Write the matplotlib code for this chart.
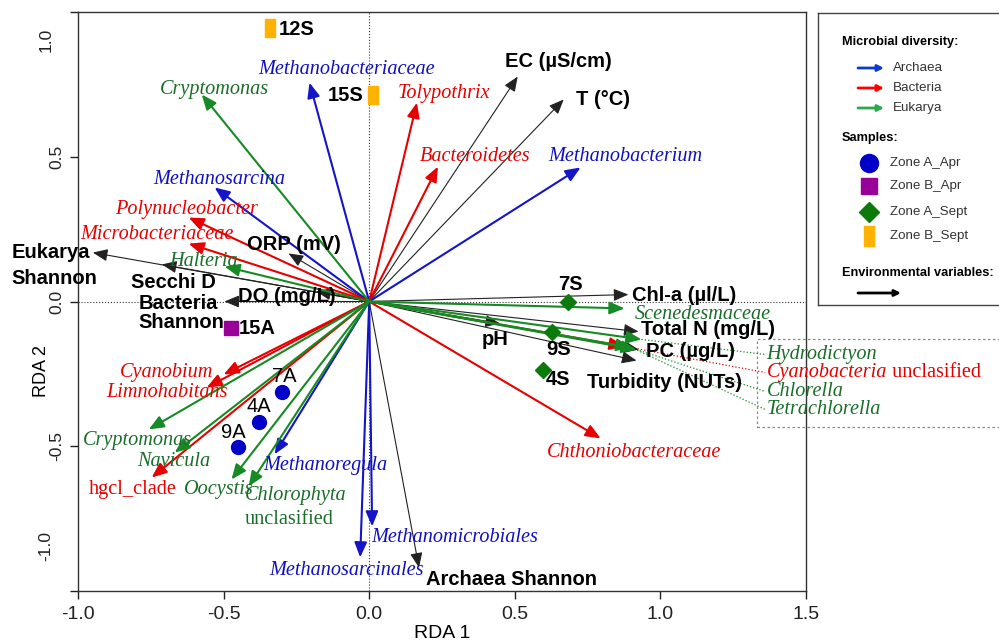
import matplotlib.pyplot as plt
from matplotlib.patches import Rectangle

plt.rcParams['font.family'] = ['Liberation Sans', 'DejaVu Sans']
plt.rcParams['axes.unicode_minus'] = False

# Environmental variables (RDA 1, RDA 2)
env_names = ['EC (µS/cm)', 'T (°C)', 'ORP (mV)', 'Eukarya\nShannon', 'Secchi D',
             'DO (mg/L)', 'Bacteria\nShannon', 'Chl-a (µl/L)', 'Total N (mg/L)',
             'PC (µg/L)', 'Turbidity (NUTs)', 'pH', 'Archaea Shannon']
env_x = [0.510, 0.668, -0.277, -0.949, -0.712, -0.182, -0.497, 0.890, 0.925, 0.925, 0.918, 0.449, 0.171]
env_y = [0.777, 0.698, 0.166, 0.169, 0.128, 0.035, 0.000, 0.024, -0.104, -0.166, -0.204, -0.076, -0.919]

# Archaea taxa
arch_names = ['Methanobacteriaceae', 'Methanosarcina', 'Methanobacterium',
              'Methanoregula', 'Methanomicrobiales', 'Methanosarcinales']
arch_x = [-0.205, -0.531, 0.726, -0.325, 0.010, -0.031]
arch_y = [0.756, 0.394, 0.463, -0.528, -0.777, -0.884]

# Bacteria taxa
bact_names = ['Tolypothrix', 'Bacteroidetes', 'Polynucleobacter', 'Microbacteriaceae',
              'Cyanobium', 'Limnohabitans', 'hgcl_clade', 'Chthoniobacteraceae',
              'Cyanobacteria unclasified']
bact_x = [0.164, 0.236, -0.620, -0.620, -0.500, -0.558, -0.747, 0.795, 0.877]
bact_y = [0.687, 0.466, 0.290, 0.200, -0.252, -0.297, -0.608, -0.473, -0.155]

# Eukarya taxa
euk_names = ['Cryptomonas', 'Halteria', 'Cryptomonas', 'Navicula', 'Oocystis',
             'Chlorophyta unclasified', 'Scenedesmaceae', 'Hydrodictyon',
             'Chlorella', 'Tetrachlorella']
euk_x = [-0.575, -0.497, -0.757, -0.668, -0.473, -0.414, 0.877, 0.935, 0.918, 0.900]
euk_y = [0.715, 0.121, -0.442, -0.522, -0.615, -0.639, -0.024, -0.131, -0.166, -0.159]

# Samples
sample_names = ['12S', '15S', '15A', '7A', '4A', '9A', '7S', '9S', '4S']
sample_group = ['Zone B_Sept', 'Zone B_Sept', 'Zone B_Apr', 'Zone A_Apr', 'Zone A_Apr',
                'Zone A_Apr', 'Zone A_Sept', 'Zone A_Sept', 'Zone A_Sept']
sample_x = [-0.339, 0.014, -0.473, -0.298, -0.377, -0.449, 0.682, 0.627, 0.596]
sample_y = [0.946, 0.712, -0.090, -0.311, -0.415, -0.504, 0.000, -0.104, -0.235]

# ---- label layout (x, y, ha) ----
env_lab = [(0.466, 0.829, 'left'), (0.709, 0.698, 'left'), (-0.421, 0.197, 'left'),
           (-1.229, 0.124, 'left'), (-0.818, 0.066, 'left'), (-0.449, 0.017, 'left'),
           (-0.791, -0.038, 'left'), (0.901, 0.021, 'left'), (0.935, -0.097, 'left'),
           (0.949, -0.173, 'left'), (0.747, -0.280, 'left'), (0.432, -0.131, 'center'),
           (0.195, -0.960, 'left')]
arch_lab = [(-0.380, 0.801), (-0.740, 0.421), (0.616, 0.501), (-0.363, -0.566),
            (0.007, -0.815), (-0.342, -0.929)]
bact_lab = [(0.099, 0.718), (0.175, 0.501), (-0.873, 0.318), (-0.993, 0.231),
            (-0.856, -0.245), (-0.904, -0.314), (-0.962, -0.649), (0.610, -0.522),
            None]
euk_lab = [(-0.719, 0.732), (-0.688, 0.138), (-0.983, -0.480), (-0.798, -0.553),
           (-0.637, -0.649), None, (0.911, -0.045), None, None, None]
sample_lab = [(-0.312, 0.940, 'left'), (-0.021, 0.712, 'right'), (-0.449, -0.093, 'left'),
              (-0.291, -0.259, 'center'), (-0.380, -0.363, 'center'), (-0.466, -0.452, 'center'),
              (0.692, 0.059, 'center'), (0.651, -0.166, 'center'), (0.606, -0.269, 'left')]
box_x = 1.36
box_lab_y = {'Hydrodictyon': -0.183, 'Cyanobacteria unclasified': -0.245,
             'Chlorella': -0.311, 'Tetrachlorella': -0.373}

BLUE, RED, GREEN = '#1414c8', '#e60000', '#168a24'
BLUE_T, RED_T, GREEN_T = '#1010c0', '#e60000', '#1a6e2a'
SERIF = 'Liberation Serif'
FS_TAXA = 14.6
FS_ENV = 14.5
rect = [(-0.28, -0.5), (0.28, -0.5), (0.28, 0.5), (-0.28, 0.5), (-0.28, -0.5)]
markers = {
    'Zone A_Apr': dict(marker='o', color='#0000c8', ms=10),
    'Zone B_Apr': dict(marker='s', color='#990099', ms=10),
    'Zone A_Sept': dict(marker='D', color='#0b7a0b', ms=8),
    'Zone B_Sept': dict(marker=rect, color='#ffb300', ms=13),
}

fig = plt.figure(figsize=(9.99, 6.44), dpi=100)
ax = fig.add_axes([78 / 999, 1 - 591 / 644, 728 / 999, 579 / 644])
ax.set_xlim(-1.0, 1.5)
ax.set_ylim(-1.0, 1.0)
ax.axhline(0, color='#333333', lw=0.8, ls=':', zorder=1)
ax.axvline(0, color='#333333', lw=0.8, ls=':', zorder=1)


def arrow(x, y, color, lw):
    ax.annotate('', xy=(x, y), xytext=(0, 0),
                arrowprops=dict(arrowstyle='-|>,head_length=0.6,head_width=0.25',
                                color=color, lw=lw, shrinkA=0, shrinkB=0,
                                mutation_scale=15), zorder=3)


for x, y in zip(env_x, env_y):
    arrow(x, y, '#222222', 0.8)
for x, y in zip(arch_x, arch_y):
    arrow(x, y, BLUE, 1.5)
for x, y in zip(bact_x, bact_y):
    arrow(x, y, RED, 1.5)
for x, y in zip(euk_x, euk_y):
    arrow(x, y, GREEN, 1.5)

# labels
for name, (lx, ly, ha) in zip(env_names, env_lab):
    ax.text(lx, ly, name, ha=ha, va='center', fontsize=FS_ENV, fontweight='bold',
            linespacing=1.45 if 'Eukarya' in name else 1.0, zorder=5)

for names, labs, col in [(arch_names, arch_lab, BLUE_T), (bact_names, bact_lab, RED_T),
                         (euk_names, euk_lab, GREEN_T)]:
    for name, lab in zip(names, labs):
        if lab is None:
            continue
        style = 'normal' if name == 'hgcl_clade' else 'italic'
        ax.text(lab[0], lab[1], name, ha='left', va='center', fontsize=FS_TAXA,
                family=SERIF, style=style, color=col, zorder=5)

ax.text(-0.428, -0.670, 'Chlorophyta', ha='left', va='center', fontsize=FS_TAXA,
        family=SERIF, style='italic', color=GREEN_T, zorder=5)
ax.text(-0.428, -0.753, 'unclasified', ha='left', va='center', fontsize=FS_TAXA,
        family=SERIF, color=GREEN_T, zorder=5)

# boxed labels on the right with dotted connectors
ax.add_patch(Rectangle((1.332, -0.432), 1.0, 0.301, fill=False, ec='#888888',
                       lw=0.9, ls=(0, (2, 2)), clip_on=False, zorder=2))
for name, x, y in zip(euk_names, euk_x, euk_y):
    if name in box_lab_y:
        ly = box_lab_y[name]
        ax.plot([x, box_x], [y, ly], ls=':', lw=0.9, color=GREEN, clip_on=False, zorder=2)
        ax.text(box_x + 0.005, ly, name, ha='left', va='center', fontsize=FS_TAXA,
                family=SERIF, style='italic', color=GREEN_T)
for name, x, y in zip(bact_names, bact_x, bact_y):
    if name in box_lab_y:
        ly = box_lab_y[name]
        ax.plot([x, box_x], [y, ly], ls=':', lw=0.9, color=RED, clip_on=False, zorder=2)
        t1 = ax.text(box_x + 0.005, ly, 'Cyanobacteria', ha='left', va='center', fontsize=FS_TAXA,
                     family=SERIF, style='italic', color=RED_T)
        ax.annotate(' unclasified', xy=(1, 0.5), xycoords=t1, ha='left', va='center',
                    fontsize=FS_TAXA, family=SERIF, color=RED_T)

# samples
for name, g, x, y, (lx, ly, ha) in zip(sample_names, sample_group, sample_x, sample_y, sample_lab):
    m = markers[g]
    ax.plot(x, y, ls='none', marker=m['marker'], color=m['color'], ms=m['ms'],
            mec=m['color'], zorder=6)
    ax.text(lx, ly, name, ha=ha, va='center', fontsize=14.5, zorder=6,
            fontweight='normal' if g == 'Zone A_Apr' else 'bold')

# axes styling
ax.set_xticks([-1.0, -0.5, 0.0, 0.5, 1.0, 1.5])
ax.set_yticks([-1.0, -0.5, 0.0, 0.5, 1.0])
ax.set_yticklabels(['', '-0.5', '0.0', '0.5', ''])
ax.tick_params(direction='out', length=6, width=1, colors='#222222')
ax.tick_params(axis='x', labelsize=14, pad=5)
ax.tick_params(axis='y', labelsize=12.5, labelrotation=90, pad=4)
for t in ax.get_yticklabels():
    t.set_va('center')
# end labels of the y axis sit a little inside the frame
ax.text(-0.034, 0.952, '1.0', transform=ax.transAxes, rotation=90, ha='right', va='center',
        fontsize=12.5, color='#222222')
ax.text(-0.034, 0.078, '-1.0', transform=ax.transAxes, rotation=90, ha='right', va='center',
        fontsize=12.5, color='#222222')
ax.set_xlabel('RDA 1', fontsize=14)
ax.set_ylabel('RDA 2', fontsize=13)
ax.xaxis.set_label_coords(0.5, -0.058)
ax.yaxis.set_label_coords(-0.038, 0.38)
for s in ax.spines.values():
    s.set_color('#333333')
    s.set_linewidth(1)

# legend panel
lax = fig.add_axes([818 / 999, 1 - 305 / 644, 200 / 999, 292 / 644])
lax.set_xlim(818, 1018)
lax.set_ylim(305, 13)
lax.set_xticks([])
lax.set_yticks([])
for s in lax.spines.values():
    s.set_color('#444444')
    s.set_linewidth(1)

lax.text(842, 42, 'Microbial diversity:', fontsize=9.2, fontweight='bold', va='center')
for y, lab, col in [(68, 'Archaea', '#0a3ad0'), (88, 'Bacteria', '#ff0000'), (108, 'Eukarya', '#2aaa4a')]:
    lax.annotate('', xy=(884, y), xytext=(858, y),
                 arrowprops=dict(arrowstyle='-|>', color=col, lw=2, shrinkA=0, shrinkB=0,
                                 mutation_scale=9))
    lax.text(893, y, lab, fontsize=9.6, va='center', color='#333333')

lax.text(842, 138, 'Samples:', fontsize=9.2, fontweight='bold', va='center')
leg_ms = {'Zone A_Apr': 13, 'Zone B_Apr': 12, 'Zone A_Sept': 10, 'Zone B_Sept': 14}
for y, g in [(163, 'Zone A_Apr'), (186, 'Zone B_Apr'), (212, 'Zone A_Sept'), (236, 'Zone B_Sept')]:
    m = markers[g]
    lax.plot(869, y, ls='none', marker=m['marker'], color=m['color'], ms=leg_ms[g])
    lax.text(890, y, g, fontsize=9.6, va='center', color='#333333')

lax.text(842, 273, 'Environmental variables:', fontsize=9.2, fontweight='bold', va='center')
lax.annotate('', xy=(901, 293), xytext=(858, 293),
             arrowprops=dict(arrowstyle='-|>', color='black', lw=2, shrinkA=0, shrinkB=0,
                             mutation_scale=9))

fig.savefig('out.png', dpi=100)
